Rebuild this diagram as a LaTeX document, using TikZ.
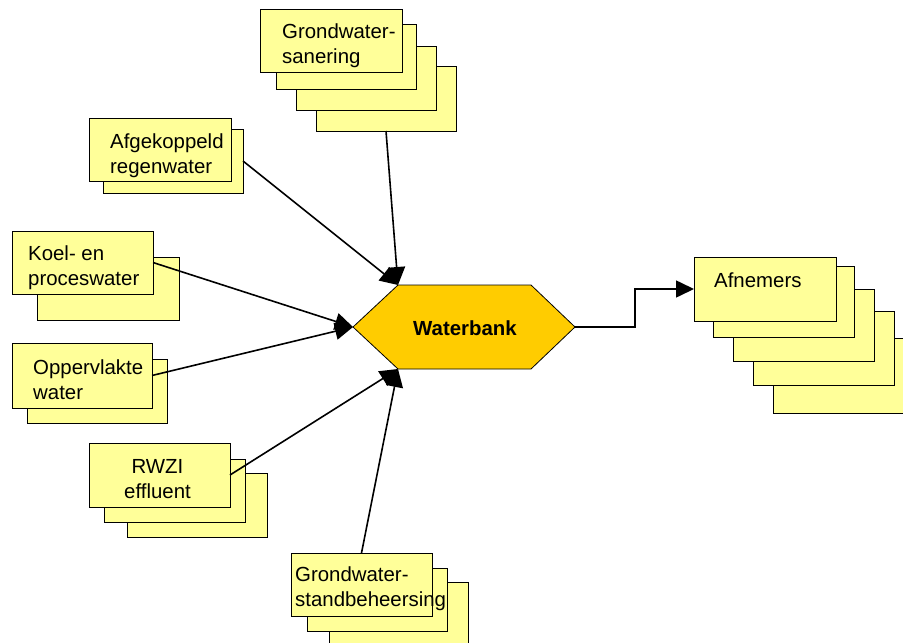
\documentclass[tikz,border=0pt]{standalone}
\usepackage{fontspec}
\setmainfont{Liberation Sans}
\usetikzlibrary{arrows.meta}

\definecolor{boxyellow}{HTML}{FFFF99}
\definecolor{bankgold}{HTML}{FFCC00}

% multi-line labels whose anchor "base" is the first baseline
\newcommand\leftlines[1]{\begin{tabular}[t]{@{}l@{}}#1\end{tabular}}
\newcommand\centerlines[1]{\begin{tabular}[t]{@{}c@{}}#1\end{tabular}}

\tikzset{
  sheet/.style 2 args={draw=black, line width=0.8pt, fill=boxyellow,
    minimum width=#1pt, minimum height=#2pt, inner sep=0pt, outer sep=0pt,
    anchor=north west},
  label/.style={inner sep=0pt, anchor=base west,
    font=\fontsize{20.4}{25}\selectfont},
  clabel/.style={label, anchor=base},
  conn/.style={line width=1.6pt, draw=black,
    -{Triangle[length=18pt,width=17pt]}},
  bank/.style={draw=black, line width=0.8pt, fill=bankgold},
}

\begin{document}
\begin{tikzpicture}[x=1pt,y=-1pt]
\useasboundingbox (0,0) rectangle (903,643);

% Grondwatersanering stack
\node[sheet={140}{65}] (gs4) at (316,66) {};
\node[sheet={140}{64}] (gs3) at (296,46) {};
\node[sheet={140}{65}] (gs2) at (276,24) {};
\node[sheet={142}{63}] (gs1) at (260,9) {};
\node[label] (gstext) at (282,38) {\leftlines{Grondwater-\\sanering}};

% Afgekoppeld regenwater stack
\node[sheet={140}{64}] (ar2) at (103,129) {};
\node[sheet={142}{63}] (ar1) at (89,118) {};
\node[label] (artext) at (110,148) {\leftlines{Afgekoppeld\\regenwater}};

% Koel- en proceswater stack
\node[sheet={142}{63}] (k2) at (37,257) {};
\node[sheet={141}{63}] (k1) at (12,231) {};
\node[label] (ktext) at (28,260) {\leftlines{Koel- en\\proceswater}};

% Oppervlaktewater stack
\node[sheet={140}{64}] (o2) at (27,359) {};
\node[sheet={140}{65}] (o1) at (12,343) {};
\node[label] (otext) at (33,374) {\leftlines{Oppervlakte\\water}};

% RWZI effluent stack
\node[sheet={140}{64}] (r3) at (127,473) {};
\node[sheet={141}{63}] (r2) at (104,459) {};
\node[sheet={141}{64}] (r1) at (89,443) {};
\node[clabel] (rtext) at (157.5,473) {\centerlines{RWZI\\effluent}};

% Grondwaterstandbeheersing stack
\node[sheet={139}{64}] (b3) at (329,582) {};
\node[sheet={140}{63}] (b2) at (307,568) {};
\node[sheet={141}{63}] (b1) at (291,553) {};
\node[label] (btext) at (295,581) {\leftlines{Grondwater-\\standbeheersing}};

% Afnemers stack
\node[sheet={142}{75}] (a5) at (773,338) {};
\node[sheet={141}{74}] (a4) at (753,311) {};
\node[sheet={141}{72}] (a3) at (733,289) {};
\node[sheet={141}{71}] (a2) at (713,266) {};
\node[sheet={142}{64}] (a1) at (694,257) {};
\node[label] (atext) at (714,287) {Afnemers};

% Waterbank hexagon
\coordinate (wbL)  at (353,327);
\coordinate (wbTL) at (398,285);
\coordinate (wbTR) at (531,285);
\coordinate (wbR)  at (575,327);
\coordinate (wbBR) at (531,369);
\coordinate (wbBL) at (398,369);
\draw[bank] (wbL) -- (wbTL) -- (wbTR) -- (wbR) -- (wbBR) -- (wbBL) -- cycle;
\node[clabel, font=\fontsize{20.4}{25}\selectfont\bfseries] (wbtext) at (465,335) {Waterbank};

% flows into and out of the bank
\draw[conn] (gs4.south) -- (wbTL);
\draw[conn] (ar2.east) -- (wbTL);
\draw[conn] (k1.east) -- (wbL);
\draw[conn] (o1.east) -- (wbL);
\draw[conn] (r1.east) -- (wbBL);
\draw[conn] (b1.north) -- (wbBL);
\draw[conn] (wbR) -- ++(60,0) |- (a1.west);
\end{tikzpicture}
\end{document}
